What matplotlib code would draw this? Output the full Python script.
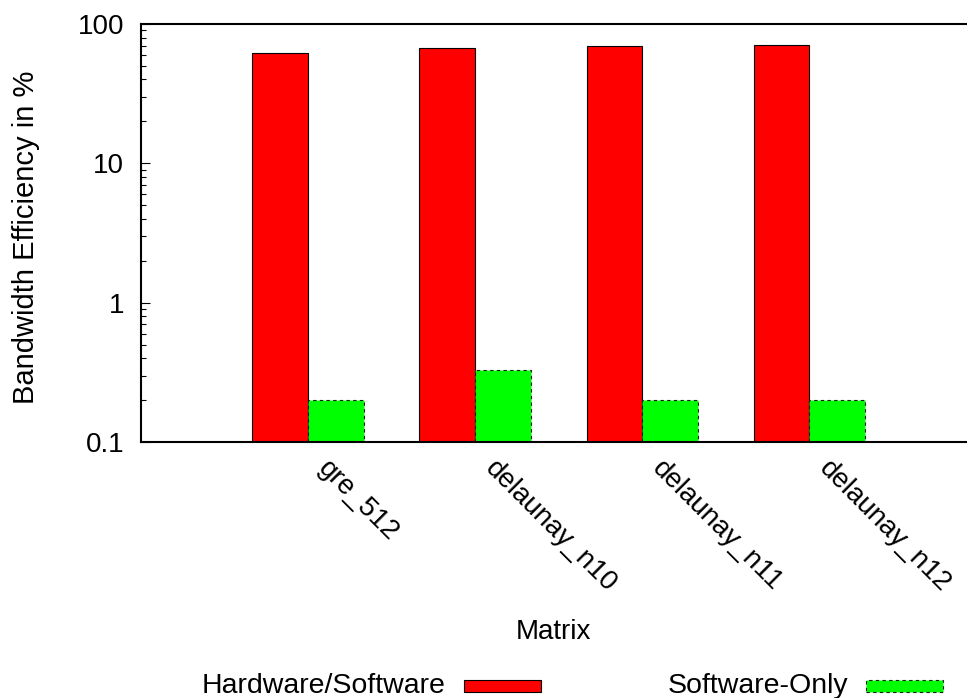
import matplotlib
matplotlib.use("Agg")
import matplotlib.pyplot as plt
from matplotlib.patches import Rectangle
from matplotlib.transforms import ScaledTranslation
from matplotlib.ticker import FixedLocator, LogLocator, NullFormatter

plt.rcParams["font.family"] = ["Liberation Sans", "DejaVu Sans"]
plt.rcParams["font.size"] = 20

# Data
matrices = ["gre_512", "delaunay_n10", "delaunay_n11", "delaunay_n12"]
hw_sw = [61.7, 67.0, 69.3, 70.5]
sw_only = [0.2, 0.33, 0.2, 0.2]
series_names = ["Hardware/Software", "Software-Only"]
y_ticks = [0.1, 1, 10, 100]
y_tick_labels = ["0.1", "1", "10", "100"]

W, H = 967, 698
fig = plt.figure(figsize=(W / 100, H / 100), dpi=100)

# axes box in pixel terms
left_px, right_px, top_px, bottom_px = 141, 966, 24, 442.3
ax = fig.add_axes([left_px / W, 1 - bottom_px / H,
                   (right_px - left_px) / W, (bottom_px - top_px) / H])

n_series = 2
bw = 1.0 / (n_series + 1)
xs = list(range(len(matrices)))

ax.bar([x - bw / 2 for x in xs], hw_sw, width=bw, color="#ff0000",
       edgecolor="black", linewidth=0.8, zorder=2)
ax.bar([x + bw / 2 for x in xs], sw_only, width=bw, color="#00ff00",
       edgecolor="#1a1a1a", linewidth=0.8, linestyle=(0, (3, 3)), zorder=2)

ax.set_yscale("log")
ax.set_ylim(0.1, 100)
ax.set_xlim(-1, -1 + (right_px - left_px) / (475.4 - 308.3))

ax.yaxis.set_major_locator(FixedLocator(y_ticks))
ax.set_yticklabels(y_tick_labels)
ax.yaxis.set_minor_locator(LogLocator(base=10, subs=range(2, 10)))
ax.yaxis.set_minor_formatter(NullFormatter())
ax.tick_params(axis="y", which="major", direction="in", length=6.5,
               width=0.8, pad=12, left=True, right=False)
ax.tick_params(axis="y", which="minor", direction="in", length=3.6,
               width=0.8, left=True, right=False)

ax.set_xticks(xs)
ax.set_xticklabels(matrices, rotation=-45, ha="left", va="baseline",
                   rotation_mode="anchor")
ax.tick_params(axis="x", which="both", length=0, pad=19.5)

for side in ["left", "bottom", "top"]:
    ax.spines[side].set_linewidth(1.5)
ax.spines["right"].set_visible(False)

ax.set_ylabel("Bandwidth Efficiency in %", fontsize=21)
ax.yaxis.set_label_coords(-0.122, 0.49)
fig.text((left_px + right_px) / 2 / W, 1 - 632 / H, "Matrix",
         ha="center", va="center")

# nudge the slanted category labels to the right of their ticks
shift = ScaledTranslation(9 / 100, 0, fig.dpi_scale_trans)
for lbl in ax.get_xticklabels():
    lbl.set_transform(lbl.get_transform() + shift)

# legend row beneath the plot
leg_y = 686
entries = [
    (series_names[0], 445, 464, "#ff0000", "black", "-"),
    (series_names[1], 848, 866, "#00ff00", "#1a1a1a", (0, (3, 3))),
]
for label, txt_right, box_left, fc, ec, ls in entries:
    fig.text(txt_right / W, 1 - leg_y / H, label, ha="right", va="center",
             fontsize=20.5)
    fig.add_artist(Rectangle((box_left / W, 1 - (leg_y + 6) / H),
                             77 / W, 12 / H, transform=fig.transFigure,
                             facecolor=fc, edgecolor=ec, linewidth=0.8,
                             linestyle=ls))

fig.savefig("out.png", dpi=100)
